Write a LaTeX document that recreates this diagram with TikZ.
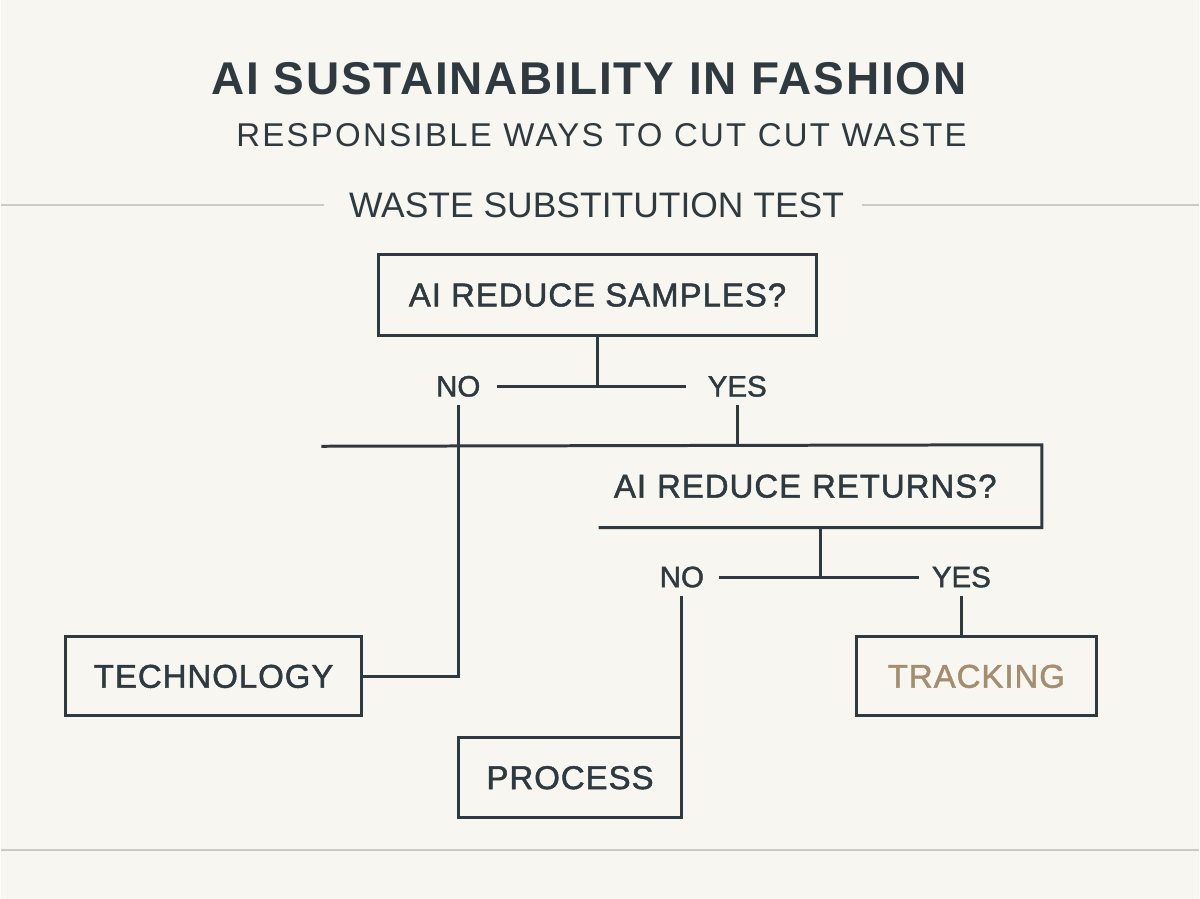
\documentclass[tikz,border=0pt]{standalone}
\usepackage{fontspec}
\setmainfont{Liberation Sans}
\usepackage{tikz}
\usetikzlibrary{positioning, calc}
\definecolor{ink}{HTML}{2E3A40}
\definecolor{tan}{HTML}{A58E6F}
\definecolor{paper}{HTML}{F7F6F1}
\definecolor{rulegray}{HTML}{CBCAC4}

\begin{document}
\begin{tikzpicture}[x=1pt, y=-1pt, ink,
  box/.style={draw=ink, line width=3pt, inner sep=0pt, text=ink,
    font=\fontsize{33}{40}\selectfont\addfontfeatures{LetterSpace=3,FakeBold=1.5}},
  answer/.style={inner sep=8pt, text=ink,
    font=\fontsize{29.5}{34}\selectfont\addfontfeatures{FakeBold=1.5}},
  link/.style={draw=ink, line width=3pt},
  divider/.style={draw=rulegray, line width=2pt}]
% Paper background (fixes the page size)
\fill[paper] (0,0) rectangle (1200,900);

% Headings
\node[anchor=base, font=\fontsize{46}{52}\selectfont\bfseries\addfontfeatures{LetterSpace=4}] (title) at (589,95) {AI SUSTAINABILITY IN FASHION};
\node[anchor=base, font=\fontsize{33}{38}\selectfont\addfontfeatures{LetterSpace=7}] (subtitle) at (601.5,147) {RESPONSIBLE WAYS TO CUT CUT WASTE};
\node[anchor=base, font=\fontsize{35.5}{42}\selectfont] (test) at (596.5,218) {WASTE SUBSTITUTION TEST};
\draw[divider] (test.west -| 0,0) -- ([xshift=-22pt]test.west);
\draw[divider] ([xshift=15pt]test.east) -- (test.east -| 1200,0);

% First question
\node[box, minimum width=439pt, minimum height=81pt] (samples) at (597.5,295.5) {AI REDUCE SAMPLES?};
\node[answer] (noA) at (458,387) {NO};
\node[answer] (yesA) at (737.5,387) {YES};

% Second question (open on the left)
\coordinate (topleft) at (321,447);
\node[box, draw=none, minimum width=441pt, minimum height=80pt, text width=413pt,
      align=left, inner xsep=14pt] (returns) at (820.5,487) {AI REDUCE RETURNS?};
\node[answer] (noB) at (682,578) {NO};
\node[answer] (yesB) at (962,578) {YES};

% Outcomes
\node[box, minimum width=296pt, minimum height=79pt] (tech) at (213,677.5) {TECHNOLOGY};
\node[box, minimum width=224pt, minimum height=80pt] (process) at (570,779) {PROCESS};
\node[box, minimum width=240pt, minimum height=79pt, text=tan] (tracking) at (977,677.5) {TRACKING};

% Connectors
\draw[link] (samples.south) -- (samples.south |- noA.center);
\draw[link, shorten <=8pt, shorten >=14pt] (noA.east) -- (yesA.west);
\draw[link] (noA.south) -- (noA.south |- tech.east) -- (tech.east);
\draw[link] (yesA.south) -- (yesA.south |- topleft);
\draw[link] (topleft) -- (returns.north east) -- (returns.south east) -- (returns.south west);
\draw[link] (returns.south) -- (returns.south |- noB.center);
\draw[link, shorten <=7pt, shorten >=5pt] (noB.east) -- (yesB.west);
\draw[link] (noB.south) -- (noB.south |- process.north east);
\draw[link] (yesB.south) -- (yesB.south |- tracking.north);

% Footer rule
\coordinate (footL) at (0,851);
\coordinate (footR) at (1200,851);
\draw[divider] (footL) -- (footR);
\end{tikzpicture}
\end{document}
